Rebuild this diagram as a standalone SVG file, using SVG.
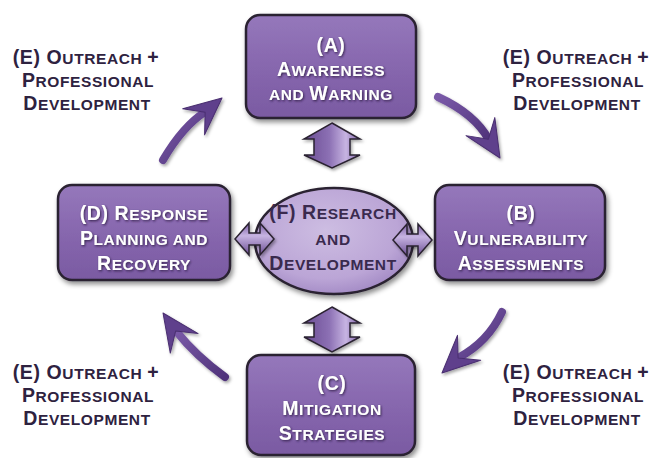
<svg xmlns="http://www.w3.org/2000/svg" width="654" height="458" viewBox="0 0 654 458">
<defs>
<linearGradient id="boxg" x1="0" y1="0" x2="0" y2="1">
<stop offset="0" stop-color="#9578bb"/>
<stop offset="0.5" stop-color="#8767ae"/>
<stop offset="1" stop-color="#7a5aa2"/>
</linearGradient>
<radialGradient id="ellg" cx="0.45" cy="0.4" r="0.65">
<stop offset="0" stop-color="#cdbde2"/>
<stop offset="0.7" stop-color="#bba5d6"/>
<stop offset="1" stop-color="#9f86c2"/>
</radialGradient>
<linearGradient id="darrv" x1="0" y1="0" x2="1" y2="0">
<stop offset="0" stop-color="#6a4d93"/>
<stop offset="0.45" stop-color="#8c70b4"/>
<stop offset="0.75" stop-color="#c7b4e2"/>
<stop offset="1" stop-color="#7a5da3"/>
</linearGradient>
<linearGradient id="darrh" x1="0" y1="0" x2="0" y2="1">
<stop offset="0" stop-color="#7a5da3"/>
<stop offset="0.4" stop-color="#c7b4e2"/>
<stop offset="1" stop-color="#6a4d93"/>
</linearGradient>
<linearGradient id="curvg" x1="0" y1="0" x2="1" y2="1">
<stop offset="0" stop-color="#7a5aa8"/>
<stop offset="1" stop-color="#4f327a"/>
</linearGradient>
<filter id="shadow" x="-20%" y="-20%" width="140%" height="150%">
<feDropShadow dx="2" dy="3" stdDeviation="2.5" flood-color="#000" flood-opacity="0.45"/>
</filter>
<filter id="ashadow" x="-30%" y="-30%" width="160%" height="160%">
<feDropShadow dx="1.5" dy="2" stdDeviation="1.5" flood-color="#000" flood-opacity="0.35"/>
</filter>
<filter id="tshadow" x="-10%" y="-30%" width="120%" height="160%">
<feDropShadow dx="1" dy="1.2" stdDeviation="0.8" flood-color="#2a1840" flood-opacity="0.85"/>
</filter>
<g id="head"><path d="M0,0 L-37,-17 L-22,0 L-37,17 Z"/></g>
</defs>
<style>
.box{fill:url(#boxg);stroke:#2a2230;stroke-width:2.5;filter:url(#shadow)}
.ell{fill:url(#ellg);stroke:#2a2230;stroke-width:2.5;filter:url(#shadow)}
.darr{stroke:#2a2230;stroke-width:1.5;stroke-linejoin:miter;filter:url(#ashadow)}
.shaft{fill:none;stroke:url(#curvg);stroke-width:8;stroke-linecap:round}
.ahead{fill:#5e3f8c;stroke:#4a2f70;stroke-width:1;stroke-linejoin:round}
text{font-family:"Liberation Sans",Arial,sans-serif;font-weight:bold;text-anchor:middle;letter-spacing:0.6px}
.w{fill:#ffffff;filter:url(#tshadow)}
.d{fill:#3a2a4e}
.e{fill:#2e2240}
.b{font-size:19.5px}
.s{font-size:15.5px}
</style>

<g id="nodeA">
<rect class="box" x="246" y="15" width="170" height="103" rx="14"/>
<text class="w" x="331" y="52"><tspan class="b">(A)</tspan></text>
<text class="w" x="331" y="76"><tspan class="b">A</tspan><tspan class="s">WARENESS</tspan></text>
<text class="w" x="331" y="100"><tspan class="s">AND </tspan><tspan class="b">W</tspan><tspan class="s">ARNING</tspan></text>
</g>

<g id="nodeB">
<rect class="box" x="435" y="185" width="170" height="95" rx="14"/>
<text class="w" x="521" y="220"><tspan class="b">(B)</tspan></text>
<text class="w" x="521" y="245"><tspan class="b">V</tspan><tspan class="s">ULNERABILITY</tspan></text>
<text class="w" x="521" y="270"><tspan class="b">A</tspan><tspan class="s">SSESSMENTS</tspan></text>
</g>

<g id="nodeC">
<rect class="box" x="247" y="355" width="168" height="100" rx="14"/>
<text class="w" x="332" y="390"><tspan class="b">(C)</tspan></text>
<text class="w" x="332" y="415"><tspan class="b">M</tspan><tspan class="s">ITIGATION</tspan></text>
<text class="w" x="332" y="440"><tspan class="b">S</tspan><tspan class="s">TRATEGIES</tspan></text>
</g>

<g id="nodeD">
<rect class="box" x="58" y="185" width="172" height="95" rx="14"/>
<text class="w" x="144" y="220"><tspan class="b">(D) R</tspan><tspan class="s">ESPONSE</tspan></text>
<text class="w" x="144" y="245"><tspan class="b">P</tspan><tspan class="s">LANNING AND</tspan></text>
<text class="w" x="144" y="270"><tspan class="b">R</tspan><tspan class="s">ECOVERY</tspan></text>
</g>

<g id="nodeF">
<ellipse class="ell" cx="334" cy="241" rx="79" ry="53"/>
<text class="d" x="333" y="219"><tspan class="b">(F) R</tspan><tspan class="s">ESEARCH</tspan></text>
<text class="d" x="333" y="245"><tspan class="s">AND</tspan></text>
<text class="d" x="333" y="270"><tspan class="b">D</tspan><tspan class="s">EVELOPMENT</tspan></text>
</g>

<g id="connectors">
<path class="darr" fill="url(#darrv)" d="M332,123 L360,139 L350,139 L350,155 L360,155 L332,168 L304,155 L314,155 L314,139 L304,139 Z"/>
<path class="darr" fill="url(#darrv)" d="M332,307 L360,323 L350,323 L350,337 L360,337 L332,352 L304,337 L314,337 L314,323 L304,323 Z"/>
<path class="darr" fill="url(#darrh)" d="M235,239 L249,223 L249,233 L260,233 L260,223 L274,239 L260,255 L260,245 L249,245 L249,255 Z"/>
<path class="darr" fill="url(#darrh)" d="M393,240 L407,224 L407,234 L418,234 L418,224 L432,240 L418,256 L418,246 L407,246 L407,256 Z"/>

<g filter="url(#ashadow)">
<path class="shaft" d="M163,160 Q183,126 205,112"/>
<use href="#head" class="ahead" transform="translate(222,98) rotate(-40)"/>
</g>
<g filter="url(#ashadow)">
<path class="shaft" d="M438,97 Q475,114 489,140"/>
<use href="#head" class="ahead" transform="translate(500,158) rotate(58)"/>
</g>
<g filter="url(#ashadow)">
<path class="shaft" d="M502,312 Q488,342 458,358"/>
<use href="#head" class="ahead" transform="translate(442,373) rotate(137)"/>
</g>
<g filter="url(#ashadow)">
<path class="shaft" d="M225,377 Q196,356 176,331"/>
<use href="#head" class="ahead" transform="translate(163,313) rotate(235)"/>
</g>
</g>

<g id="labelTL">
<text class="e" x="86" y="64"><tspan class="b">(E) O</tspan><tspan class="s">UTREACH </tspan><tspan class="b">+</tspan></text>
<text class="e" x="88" y="87"><tspan class="b">P</tspan><tspan class="s">ROFESSIONAL</tspan></text>
<text class="e" x="87" y="110"><tspan class="b">D</tspan><tspan class="s">EVELOPMENT</tspan></text>
</g>
<g id="labelTR">
<text class="e" x="576" y="64"><tspan class="b">(E) O</tspan><tspan class="s">UTREACH </tspan><tspan class="b">+</tspan></text>
<text class="e" x="578" y="87"><tspan class="b">P</tspan><tspan class="s">ROFESSIONAL</tspan></text>
<text class="e" x="577" y="110"><tspan class="b">D</tspan><tspan class="s">EVELOPMENT</tspan></text>
</g>
<g id="labelBL">
<text class="e" x="86" y="379"><tspan class="b">(E) O</tspan><tspan class="s">UTREACH </tspan><tspan class="b">+</tspan></text>
<text class="e" x="88" y="402"><tspan class="b">P</tspan><tspan class="s">ROFESSIONAL</tspan></text>
<text class="e" x="87" y="425"><tspan class="b">D</tspan><tspan class="s">EVELOPMENT</tspan></text>
</g>
<g id="labelBR">
<text class="e" x="576" y="379"><tspan class="b">(E) O</tspan><tspan class="s">UTREACH </tspan><tspan class="b">+</tspan></text>
<text class="e" x="578" y="402"><tspan class="b">P</tspan><tspan class="s">ROFESSIONAL</tspan></text>
<text class="e" x="577" y="425"><tspan class="b">D</tspan><tspan class="s">EVELOPMENT</tspan></text>
</g>
</svg>
